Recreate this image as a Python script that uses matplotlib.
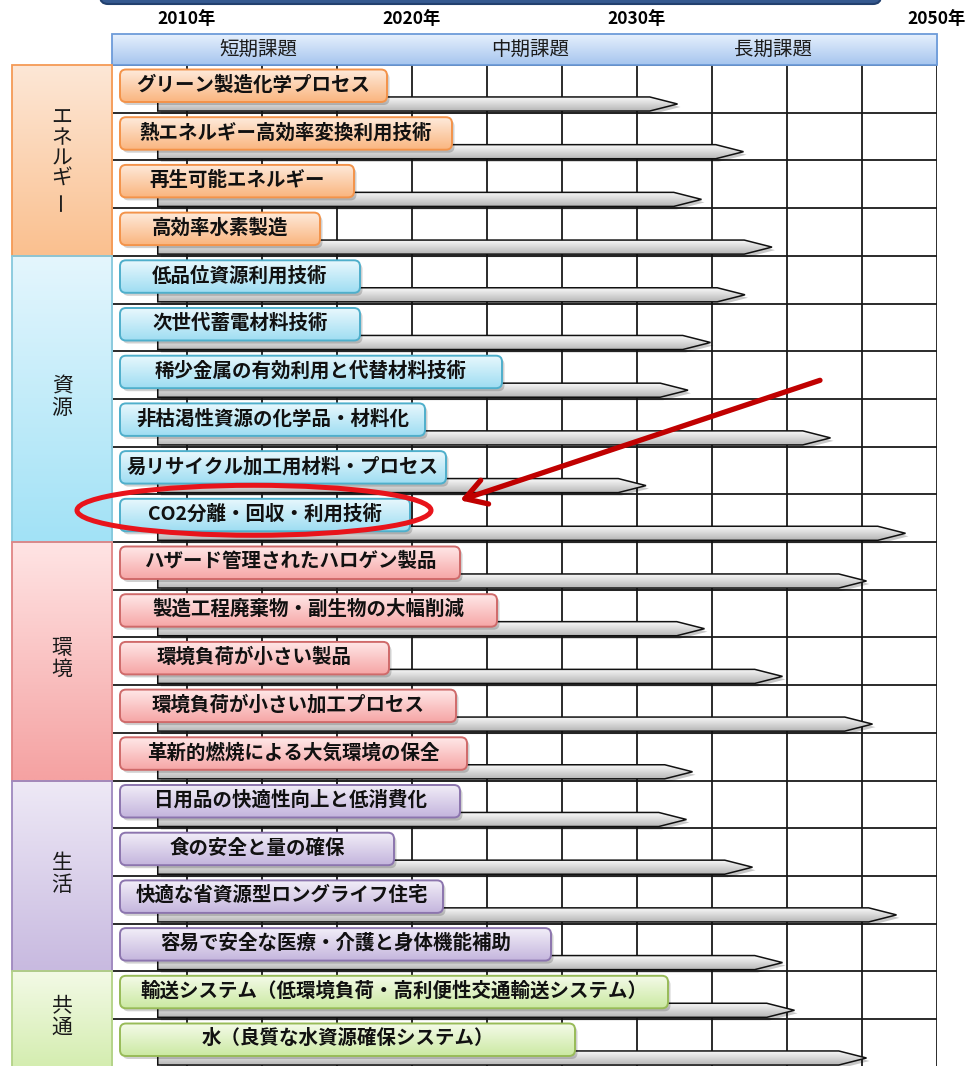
import numpy as np
import matplotlib
matplotlib.use('Agg')
import matplotlib.pyplot as plt
from matplotlib.patches import FancyBboxPatch, Polygon, Ellipse, FancyArrowPatch, Rectangle
import matplotlib.transforms as mtransforms
from matplotlib.colors import to_rgba

plt.rcParams['font.family'] = ['Noto Sans CJK JP', 'DejaVu Sans']

# ---------------- data ----------------
categories = ['エネルギー', '資源', '環境', '生活', '共通']
category_sizes = [4, 6, 5, 4, 2]
themes = [
    'グリーン製造化学プロセス',
    '熱エネルギー高効率変換利用技術',
    '再生可能エネルギー',
    '高効率水素製造',
    '低品位資源利用技術',
    '次世代蓄電材料技術',
    '稀少金属の有効利用と代替材料技術',
    '非枯渇性資源の化学品・材料化',
    '易リサイクル加工用材料・プロセス',
    'CO2分離・回収・利用技術',
    'ハザード管理されたハロゲン製品',
    '製造工程廃棄物・副生物の大幅削減',
    '環境負荷が小さい製品',
    '環境負荷が小さい加工プロセス',
    '革新的燃焼による大気環境の保全',
    '日用品の快適性向上と低消費化',
    '食の安全と量の確保',
    '快適な省資源型ロングライフ住宅',
    '容易で安全な医療・介護と身体機能補助',
    '輸送システム（低環境負荷・高利便性交通輸送システム）',
    '水（良質な水資源確保システム）',
]
start_year = 2008.7
end_years = [2032.7, 2037.1, 2034.3, 2039.0, 2037.2, 2034.9, 2033.4, 2042.9,
             2030.6, 2047.9, 2045.3, 2034.5, 2039.7, 2045.7, 2033.7, 2033.3,
             2037.7, 2047.3, 2039.7, 2040.5, 2045.3]
year_ticks = [2010, 2020, 2030, 2050]
year_tick_labels = ['2010年', '2020年', '2030年', '2050年']
period_labels = ['短期課題', '中期課題', '長期課題']
highlight_theme = 'CO2分離・回収・利用技術'

# ---------------- layout / styles ----------------
# right edge (pixels) of each theme label box, as drawn in the original slide
label_box_right = [387, 452, 354, 320, 360, 360, 502, 425, 446, 410, 460,
                   497, 389, 456, 467, 460, 394, 443, 551, 668, 575]
# (label top, label bottom, label edge, side top, side bottom, side edge)
cat_styles = [
    ('#FEEBDC', '#FAB57F', '#F3934A', '#FDE7D6', '#FAC08F', '#F59A55'),
    ('#E9F8FD', '#9EDDF2', '#4FAFCB', '#E4F6FD', '#A2E2F6', '#86C8DC'),
    ('#FFE8E8', '#F6A6A6', '#CF6A6A', '#FFE4E4', '#F5A2A2', '#E08585'),
    ('#F2EEF8', '#C4B5DD', '#8C75AE', '#EEE9F6', '#C8BAE0', '#9E88BE'),
    ('#F5FBEA', '#CBE9A2', '#98BB58', '#F3FAE6', '#D4EDB0', '#B2D286'),
]

W, H = 980, 1066
fig = plt.figure(figsize=(W / 100, H / 100), dpi=100)

# piecewise time axis (schematic): columns of the grid
anchor_years = np.array([1990, 2010, 2020, 2030, 2050, 2070], float)
anchor_cols = np.array([-5, 1, 4, 7, 11, 15], float)


def fwd(y):
    return np.interp(y, anchor_years, anchor_cols)


def inv(c):
    return np.interp(c, anchor_cols, anchor_years)


n_rows = len(themes)
row_h = 47.7
grid_top, grid_left, grid_right = 65, 112, 937
ax = fig.add_axes([grid_left / W, 1 - (grid_top + n_rows * row_h) / H,
                   (grid_right - grid_left) / W, n_rows * row_h / H], zorder=1)
ax.set_xscale('function', functions=(fwd, inv))
ax.set_xlim(inv(0), inv(11))
ax.set_ylim(n_rows, 0)
for s in ax.spines.values():
    s.set_visible(False)
ax.xaxis.tick_top()
ax.set_xticks(year_ticks)
ax.set_xticklabels(year_tick_labels, fontsize=12.5, fontweight='bold')
ax.tick_params(axis='x', length=0, pad=27)
ax.set_yticks([])
ax.xaxis.set_minor_locator(matplotlib.ticker.NullLocator())

grid_kw = dict(color='#1a1a1a', lw=1.3, zorder=1)
for c in range(12):
    ax.axvline(inv(c), **grid_kw)
for r in range(n_rows + 1):
    ax.axhline(r, **grid_kw)


def gradient_fill(axis, patch, top, bottom, extent, zorder):
    c0 = np.array(to_rgba(top))
    c1 = np.array(to_rgba(bottom))
    t = np.linspace(0, 1, 64)[:, None]
    arr = (c0[None, :] * (1 - t) + c1[None, :] * t)[:, None, :]
    im = axis.imshow(arr, extent=extent, aspect='auto', interpolation='bilinear',
                     zorder=zorder, origin='upper')
    im.set_clip_path(patch)
    return im


# arrows (timeline bars)
head = 0.37  # head length in columns
shadow_tr = mtransforms.offset_copy(ax.transData, fig=fig, x=3, y=-3, units='dots')
for i, end in enumerate(end_years):
    yt, yb = i + 0.67, i + 0.965
    ym = (yt + yb) / 2
    xhb = inv(fwd(end) - head)
    verts = [(start_year, yt), (xhb, yt), (end, ym), (xhb, yb), (start_year, yb)]
    sh = Polygon(verts, closed=True, fc='#000000', ec='none', alpha=0.22,
                 transform=shadow_tr, zorder=2)
    ax.add_patch(sh)
    poly = Polygon(verts, closed=True, fc='none', ec='#111111', lw=1.1, zorder=3.2)
    ax.add_patch(poly)
    gradient_fill(ax, poly, '#FAFAFA', '#B9B9B9', (start_year, end, yb, yt), 3)

ax.set_xlim(inv(0), inv(11))
ax.set_ylim(n_rows, 0)

# overlay in pixel coordinates
deco = fig.add_axes([0, 0, 1, 1], zorder=5)
deco.set_xlim(0, W)
deco.set_ylim(H, 0)
deco.set_facecolor('none')
deco.axis('off')


def row_px(r):
    disp = ax.transData.transform((inv(1), r))
    return deco.transData.inverted().transform(disp)[1]


# top dark bar
deco.add_patch(FancyBboxPatch((100, -30), 781, 34,
                              boxstyle='round,pad=0,rounding_size=8',
                              fc='#35598F', ec='#22406E', lw=1.5, zorder=2))

# header band
hdr = Rectangle((grid_left, 34), grid_right - grid_left, 31, fc='none',
                ec='#6D9BD9', lw=1.3, zorder=2.1)
deco.add_patch(hdr)
gradient_fill(deco, hdr, '#E6F0FD', '#A6C5EE', (grid_left, grid_right, 65, 34), 2)
for lab, col in zip(period_labels, [1.95, 5.57, 8.81]):
    deco.text(grid_left + col / 11 * (grid_right - grid_left), 49.5, lab,
              ha='center', va='center', fontsize=14, color='#1a1a1a', zorder=3)

renderer = fig.canvas.get_renderer()

# calibrate multi-line spacing for stacked (vertical) category names
side_fs = 15
_t1 = deco.text(0, 0, '資', fontsize=side_fs, linespacing=1.0)
_t2 = deco.text(0, 0, '資\n源', fontsize=side_fs, linespacing=1.0)
step1 = _t2.get_window_extent(renderer).height - _t1.get_window_extent(renderer).height
_t1.remove()
_t2.remove()


def stacked_label(x, yc, text, step):
    """Vertical (tategaki) label; a trailing long-vowel mark is drawn rotated."""
    body = text.rstrip('ー')
    tail = text[len(body):]
    nlines = len(body) + len(tail)
    y_first = yc - (nlines - 1) / 2 * step
    y_body = y_first + (len(body) - 1) / 2 * step
    tb = deco.text(x, y_body, '\n'.join(body), ha='center', va='center',
                   multialignment='center', fontsize=side_fs,
                   linespacing=step / step1, color='#1a1a1a', zorder=3)
    if tail:
        bb = tb.get_window_extent(renderer)
        bottom = deco.transData.inverted().transform((bb.x0, bb.y0))[1]
        for k, ch in enumerate(tail):
            deco.text(x, bottom + 10.5 + k * 21, ch, ha='center', va='center',
                      fontsize=side_fs, rotation=90, color='#1a1a1a', zorder=3)


# category side boxes + theme label boxes
row = 0
hl_row = themes.index(highlight_theme)
for ci, (cat, n) in enumerate(zip(categories, category_sizes)):
    lt, lb, le, st, sb, se = cat_styles[ci]
    y0, y1 = row_px(row), row_px(row + n)
    side = Rectangle((12, y0), grid_left - 12, y1 - y0, fc='none', ec=se, lw=1.3, zorder=2.1)
    deco.add_patch(side)
    gradient_fill(deco, side, st, sb, (12, grid_left, y1, y0), 2)
    stacked_label(62, (y0 + y1) / 2 - 2, cat, 20 if len(cat) > 3 else 21.5)
    for j in range(n):
        r = row + j
        top = row_px(r)
        bx, by, bh = 120, top + 4.5, 32.5
        bw = label_box_right[r] - bx
        t = deco.text(bx + bw / 2, by + bh / 2 - 1, themes[r], ha='center', va='center',
                      fontsize=14, fontweight='bold', color='#111111', zorder=6)
        tw = t.get_window_extent(renderer).width
        if tw > bw - 14:
            t.set_fontsize(14 * (bw - 14) / tw)
        shadow = FancyBboxPatch((bx + 2.5, by + 3), bw, bh,
                                boxstyle='round,pad=0,rounding_size=6',
                                fc='#000000', ec='none', alpha=0.18, zorder=4)
        deco.add_patch(shadow)
        box = FancyBboxPatch((bx, by), bw, bh, boxstyle='round,pad=0,rounding_size=6',
                             fc='none', ec=le, lw=1.4, zorder=5.1)
        deco.add_patch(box)
        gradient_fill(deco, box, lt, lb, (bx, bx + bw, by + bh, by), 5)
    row += n

# highlight ellipse and red arrow
hl_top = row_px(hl_row)
deco.add_patch(Ellipse((254, hl_top + 16), 354, 50, fc='none', ec='#E8141B',
                       lw=3.6, zorder=8))
deco.add_patch(FancyArrowPatch((820, hl_top - 114), (460, hl_top + 6),
                               arrowstyle='->,head_length=0.75,head_width=0.45',
                               mutation_scale=20, lw=3.8, color='#C00000',
                               shrinkA=0, shrinkB=0, zorder=8))

deco.set_xlim(0, W)
deco.set_ylim(H, 0)
fig.savefig('out.png', dpi=100)
